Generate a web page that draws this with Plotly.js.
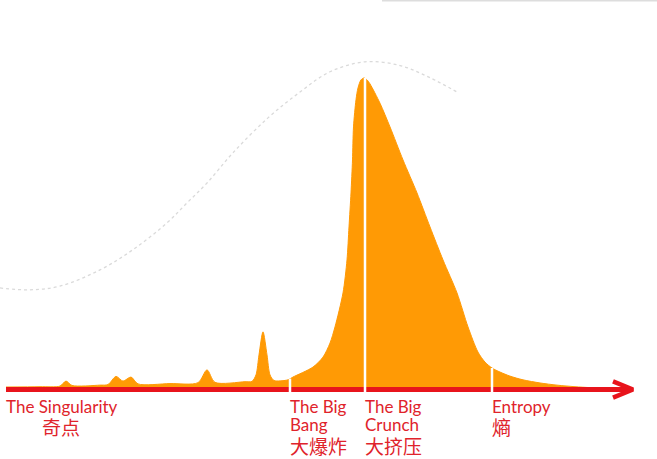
<!DOCTYPE html>
<html>
<head>
<meta charset="utf-8">
<script src="https://cdn.plot.ly/plotly-3.0.1.min.js"></script>
<style>html,body{margin:0;padding:0;background:#fff;}#chart{width:657px;height:459px;}</style>
</head>
<body>
<div id="chart"></div>
<script>
// Time axis (arbitrary units) and "intensity"
const timeX = [6, 40, 60, 66, 72, 100, 108, 116, 123, 131, 138, 170, 198, 207, 215, 245, 252, 256, 259, 263, 267, 270, 274, 288,
  293, 313, 323, 330, 335, 343, 347, 349, 351, 352.5, 353.5, 356, 358, 361, 364, 367, 370, 380, 390, 403, 417, 430, 443, 457, 468,
  478, 485, 492, 500, 510, 523, 540, 557, 575, 590, 615];
const intensity = [0.8, 0.9, 1.1, 2.7, 1.3, 1.4, 1.6, 4.2, 2.7, 4.0, 1.8, 1.9, 2.2, 6.3, 2.3, 2.5, 2.6, 4.7, 11.1, 18.5, 11.1, 4.7, 2.9, 3.1,
  4.0, 7.2, 10.4, 14.9, 20.1, 31.0, 41.6, 52.2, 63.1, 73.7, 84.3, 93.0, 96.8, 99.4, 100, 99.4, 98.1, 91.9, 84.3, 73.7, 63.1, 52.2, 41.6, 31.0, 20.1,
  12.0, 8.8, 6.9, 5.6, 4.3, 3.1, 2.1, 1.4, 0.9, 0.6, 0.3];

// Dotted background wave
const waveX = [0, 30, 60, 100, 133, 167, 187, 207, 233, 268, 300, 330, 365, 400, 430, 458];
const waveY = [32.6, 32.0, 33.2, 38.4, 44.9, 53.5, 59.9, 66.3, 76.0, 87.2, 95.5, 102.0, 105.2, 104.0, 100.1, 95.3];

// Events on the time axis
const eventX = [6, 290, 365, 492];
const eventHeight = [0, 3.5, 100, 6.9];
const labelsEn = ['The Singularity', 'The Big<br>Bang', 'The Big<br>Crunch', 'Entropy'];
const labelsZh = ['奇点', '大爆炸', '大挤压', '熵'];
const labelsZhX = [42, 290, 365, 492];

const axisStart = 6, axisEnd = 633;

const ORANGE = '#FF9A05', RED = '#E8141C', TXT = '#E0232B';
const px = 3.115; // px per unit (y)
const yTop = 389.5 / px, yBot = -(459 - 389.5) / px;
function yp(p) { return (389.5 - p) / px; }

const traces = [];
traces.push({x: waveX, y: waveY, mode: 'lines', line: {color: '#dadada', width: 1.3, dash: 'dot', shape: 'spline', smoothing: 1}, hoverinfo: 'skip'});
traces.push({x: timeX, y: intensity, mode: 'lines', fill: 'tozeroy', fillcolor: ORANGE, line: {color: ORANGE, width: 1, shape: 'spline', smoothing: 0.8}, hoverinfo: 'skip'});
traces.push({x: [axisStart, axisEnd - 2], y: [0, 0], mode: 'lines', line: {color: RED, width: 5}, hoverinfo: 'skip'});
traces.push({x: [axisEnd - 20, axisEnd, axisEnd - 20], y: [2.6, 0, -2.6], mode: 'lines', line: {color: RED, width: 4.5}, hoverinfo: 'skip'});
for (let i = 1; i < eventX.length; i++) {
  traces.push({x: [eventX[i], eventX[i]], y: [yp(396), eventHeight[i]], mode: 'lines', line: {color: '#ffffff', width: 2.5}, hoverinfo: 'skip'});
}

const ann = [];
const fontEn = 'Lato, "Open Sans", sans-serif';
const fontZh = '"Noto Sans CJK SC", sans-serif';
for (let i = 0; i < eventX.length; i++) {
  const lines = labelsEn[i].split('<br>');
  lines.forEach((t, k) => {
    ann.push({x: eventX[i], y: yp(394 + 18 * k), xref: 'x', yref: 'y', text: t, showarrow: false, xanchor: 'left', yanchor: 'top', align: 'left',
      font: {family: fontEn, size: 17, color: TXT}, xshift: -2});
  });
  const topZh = lines.length === 1 ? 411 : 430;
  ann.push({x: labelsZhX[i], y: yp(topZh), xref: 'x', yref: 'y', text: labelsZh[i], showarrow: false, xanchor: 'left', yanchor: 'top',
    font: {family: fontZh, size: 19, color: TXT}, xshift: -2});
}

const layout = {
  width: 657, height: 459,
  margin: {l: 0, r: 0, t: 0, b: 0},
  paper_bgcolor: '#ffffff', plot_bgcolor: '#ffffff',
  showlegend: false,
  xaxis: {range: [0, 657], visible: false, fixedrange: true},
  yaxis: {range: [yBot, yTop], visible: false, fixedrange: true},
  annotations: ann,
  shapes: [{type: 'line', xref: 'paper', yref: 'paper', x0: 382 / 657, x1: 1, y0: 0.999, y1: 0.999, line: {color: '#dddddd', width: 2}}]
};

Plotly.newPlot('chart', traces, layout, {staticPlot: true, displayModeBar: false});
</script>
</body>
</html>
